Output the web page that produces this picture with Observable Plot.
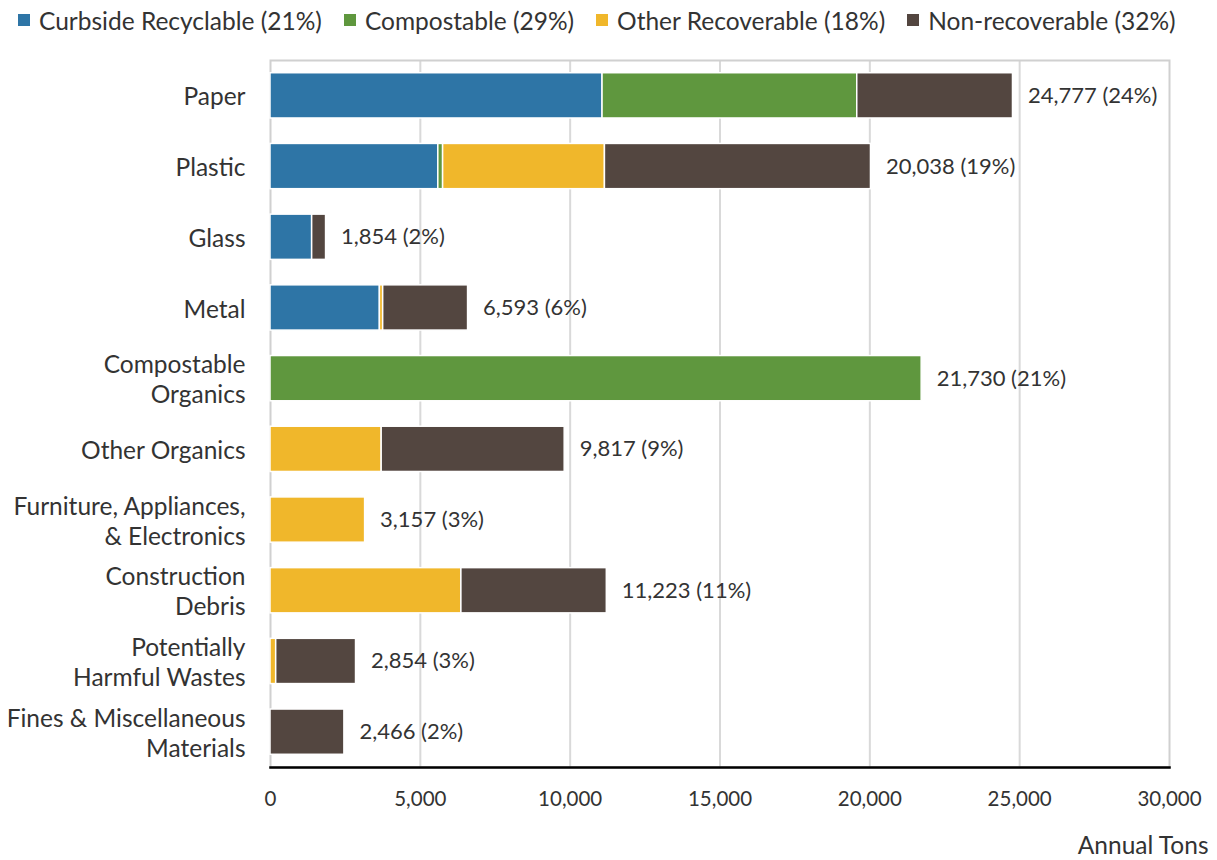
<!DOCTYPE html>
<html>
<head>
<meta charset="utf-8">
<script src="https://cdn.jsdelivr.net/npm/d3@7"></script>
<script src="https://cdn.jsdelivr.net/npm/@observablehq/plot@0.6"></script>
<style>
  body { margin: 0; background: #fff; font-family: Lato, "Open Sans", sans-serif; color: #333; }
  #legend { height: 40px; display: flex; align-items: center; padding-left: 18px; font-size: 24.5px; white-space: nowrap; overflow: hidden; }
  .item { display: flex; align-items: center; margin-right: 22px; }
  .sw { width: 12px; height: 12px; margin-right: 9px; flex: none; }
  svg { display: block; }
</style>
</head>
<body>
<div id="legend"></div>
<div id="chart"></div>
<script>
const categories = ["Paper","Plastic","Glass","Metal","Compostable Organics","Other Organics","Furniture, Appliances, & Electronics","Construction Debris","Potentially Harmful Wastes","Fines & Miscellaneous Materials"];
const categoryLabels = ["Paper","Plastic","Glass","Metal","Compostable\nOrganics","Other Organics","Furniture, Appliances,\n& Electronics","Construction\nDebris","Potentially\nHarmful Wastes","Fines & Miscellaneous\nMaterials"];
const seriesNames = ["Curbside Recyclable","Compostable","Other Recoverable","Non-recoverable"];
const seriesShares = ["21%","29%","18%","32%"];
const seriesColors = ["#2e75a6","#5f973e","#f0b72b","#534640"];
const curbside    = [11080, 5600, 1390, 3650,     0,    0,    0,    0,    0,    0];
const compostable = [ 8500,  160,    0,    0, 21730,    0,    0,    0,    0,    0];
const otherRecov  = [    0, 5400,    0,  110,     0, 3710, 3157, 6370,  190,    0];
const nonRecov    = [ 5197, 8878,  464, 2833,     0, 6107,    0, 4853, 2664, 2466];
const totals      = [24777, 20038, 1854, 6593, 21730, 9817, 3157, 11223, 2854, 2466];
const totalShares = ["24%","19%","2%","6%","21%","9%","3%","11%","3%","2%"];
const xTicks = [0, 5000, 10000, 15000, 20000, 25000, 30000];

const seriesValues = [curbside, compostable, otherRecov, nonRecov];
const rows = [];
seriesNames.forEach((s, si) => categories.forEach((c, ci) => {
  const v = seriesValues[si][ci];
  if (v > 0) rows.push({category: c, series: s, value: v});
}));
const totalRows = categories.map((c, i) => ({category: c, total: totals[i], label: d3.format(",")(totals[i]) + " (" + totalShares[i] + ")"}));
const labelOf = new Map(categories.map((c, i) => [c, categoryLabels[i]]));

// legend
const legend = document.getElementById("legend");
seriesNames.forEach((s, i) => {
  const it = document.createElement("div");
  it.className = "item";
  it.innerHTML = `<span class="sw" style="background:${seriesColors[i]}"></span><span>${s} (${seriesShares[i]})</span>`;
  legend.appendChild(it);
});

const chart = Plot.plot({
  width: 1217,
  height: 820,
  marginLeft: 270,
  marginRight: 48,
  marginTop: 20,
  marginBottom: 93,
  style: {fontFamily: "Lato, 'Open Sans', sans-serif", color: "#333", background: "#fff"},
  x: {domain: [0, 30000], ticks: xTicks},
  y: {domain: categories, paddingInner: 0.36, paddingOuter: 0.18, round: false},
  color: {domain: seriesNames, range: seriesColors},
  marks: [
    Plot.gridX(xTicks.slice(1, -1), {stroke: "#d9d9d9", strokeOpacity: 1, strokeWidth: 2}),
    Plot.frame({stroke: "#d0d0d0", strokeWidth: 2}),
    Plot.barX(rows, {x: "value", y: "category", fill: "series", stroke: "white", strokeWidth: 1.5}),
    Plot.text(totalRows, {x: "total", y: "category", text: "label", textAnchor: "start", dx: 15, fontSize: 22, fill: "#333"}),
    Plot.frame({anchor: "bottom", stroke: "black", strokeWidth: 2.5}),
    Plot.axisX({ticks: xTicks, tickSize: 0, tickPadding: 24, tickFormat: d3.format(","), fontSize: 20.5, label: null}),
    Plot.axisY({tickSize: 0, tickPadding: 25, tickFormat: d => labelOf.get(d), fontSize: 24.5, lineHeight: 1.22, label: null}),
    Plot.text(["Annual Tons"], {frameAnchor: "bottom-right", textAnchor: "end", dx: 39, dy: 86, fontSize: 24.5, fill: "#333"})
  ]
});
document.getElementById("chart").appendChild(chart);
</script>
</body>
</html>
